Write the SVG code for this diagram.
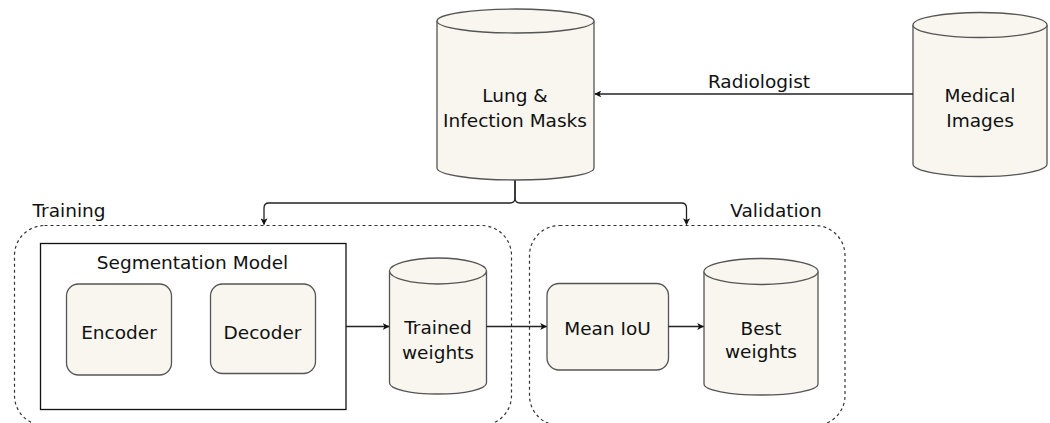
<svg xmlns="http://www.w3.org/2000/svg" width="1050" height="423" viewBox="0 0 1050 423">
<defs>
<style>
text{font-family:"DejaVu Sans","Liberation Sans",sans-serif;font-size:18.5px;fill:#111;text-anchor:middle}
.cyl{fill:#f8f6ee;stroke:#555;stroke-width:1.3}
.box{fill:#f8f6ee;stroke:#555;stroke-width:1.3}
.grp{fill:none;stroke:#333;stroke-width:1.2;stroke-dasharray:3 3}
.edge{fill:none;stroke:#222;stroke-width:1.3}
</style>
<marker id="ah" viewBox="0 0 10 10" refX="9" refY="5" markerWidth="7" markerHeight="7" markerUnits="userSpaceOnUse" orient="auto">
<path d="M0,0 L10,5 L0,10 L2.5,5 Z" fill="#111"/>
</marker>
</defs>
<rect width="1050" height="423" fill="#fff"/>

<g id="training">
<rect class="grp" x="14.5" y="225.5" width="497" height="200" rx="30"/>
<text x="69" y="217">Training</text>
</g>
<g id="validation">
<rect class="grp" x="529.5" y="225.5" width="315.5" height="200" rx="30"/>
<text x="776" y="217">Validation</text>
</g>

<g id="lung-masks">
<path class="cyl" d="M437,21 V168 A78.5,12 0 0 0 594,168 V21 A78.5,12 0 0 0 437,21 Z"/>
<path class="cyl" d="M437,21 A78.5,12 0 0 0 594,21" fill="none"/>
<text x="515" y="102">Lung &amp;</text>
<text x="515" y="127">Infection Masks</text>
</g>

<g id="medical-images">
<path class="cyl" d="M913,25 V164 A67,12.5 0 0 0 1047,164 V25 A67,12.5 0 0 0 913,25 Z"/>
<path class="cyl" d="M913,25 A67,12.5 0 0 0 1047,25" fill="none"/>
<text x="980" y="102">Medical</text>
<text x="980" y="127">Images</text>
</g>

<g id="segmentation-model">
<rect x="40.5" y="243.5" width="305.5" height="166" fill="#fff" stroke="#111" stroke-width="1.3"/>
<text x="192.5" y="269">Segmentation Model</text>
</g>
<g id="encoder">
<rect class="box" x="66.5" y="284" width="105" height="91" rx="12"/>
<text x="119" y="338.5">Encoder</text>
</g>
<g id="decoder">
<rect class="box" x="210.5" y="284" width="105" height="89.5" rx="12"/>
<text x="262.5" y="338.5">Decoder</text>
</g>

<g id="trained-weights">
<path class="cyl" d="M389.5,271 V383 A48.5,11 0 0 0 486.5,383 V271 A48.5,13 0 0 0 389.5,271 Z"/>
<path class="cyl" d="M389.5,271 A48.5,13 0 0 0 486.5,271" fill="none"/>
<text x="438" y="333.5">Trained</text>
<text x="438" y="358.5">weights</text>
</g>

<g id="mean-iou">
<rect class="box" x="547" y="283.5" width="121.5" height="86.5" rx="12"/>
<text x="607.5" y="335">Mean IoU</text>
</g>

<g id="best-weights">
<path class="cyl" d="M704,271.5 V384 A57,11 0 0 0 818,384 V271.5 A57,13 0 0 0 704,271.5 Z"/>
<path class="cyl" d="M704,271.5 A57,13 0 0 0 818,271.5" fill="none"/>
<text x="761" y="334.5">Best</text>
<text x="761" y="358">weights</text>
</g>

<g id="connectors">
<path class="edge" d="M913,94 H595" marker-end="url(#ah)"/>
<text x="759" y="88">Radiologist</text>
<path class="edge" d="M515,180.5 V198 Q515,203 510,203 H269 Q264,203 264,208 V224.5" marker-end="url(#ah)"/>
<path class="edge" d="M515,180.5 V198 Q515,203 520,203 H681.5 Q686.5,203 686.5,208 V224.5" marker-end="url(#ah)"/>
<path class="edge" d="M346,326.5 H389" marker-end="url(#ah)"/>
<path class="edge" d="M486.5,326.5 H546.5" marker-end="url(#ah)"/>
<path class="edge" d="M668.5,326.5 H703.5" marker-end="url(#ah)"/>
</g>
</svg>
